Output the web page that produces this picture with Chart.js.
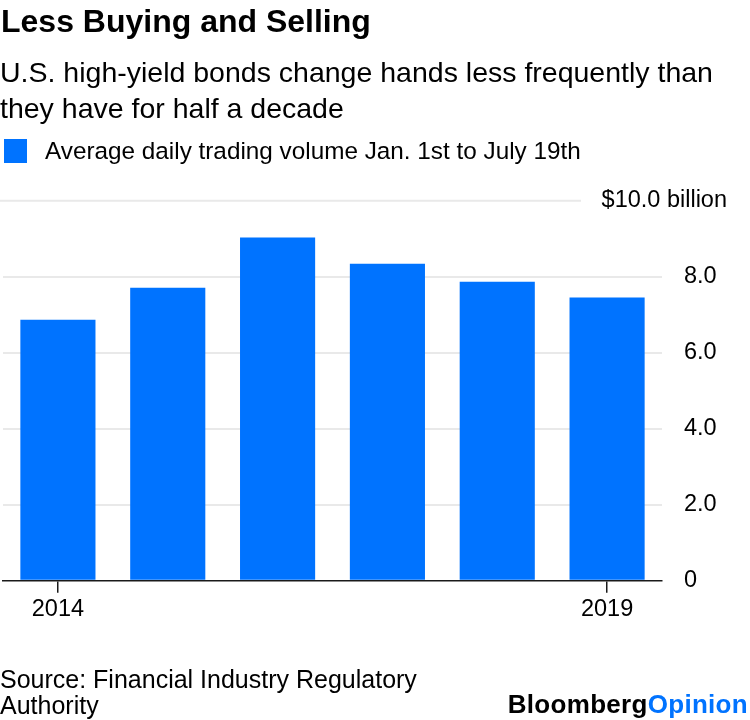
<!DOCTYPE html>
<html>
<head>
<meta charset="utf-8">
<script src="https://cdn.jsdelivr.net/npm/chart.js@4"></script>
<style>
  html, body { margin: 0; padding: 0; background: #fff; }
  body { width: 750px; height: 720px; position: relative; overflow: hidden; font-family: "Liberation Sans", Arial, sans-serif; color: #000; }
  .t { position: absolute; left: 0; white-space: nowrap; }
  #title { top: 5px; left: 1px; font-size: 32px; line-height: 32px; font-weight: bold; }
  #sub { top: 53.6px; font-size: 28.5px; line-height: 36px; }
  #leg { top: 139px; left: 4px; }
  #legbox { position: absolute; left: 0; top: 0; width: 23px; height: 24px; background: #0073ff; }
  #legtxt { position: absolute; left: 41px; top: -1px; font-size: 24.3px; line-height: 26px; white-space: nowrap; }
  #src { top: 666px; font-size: 25px; line-height: 26px; }
  #logo { top: 691px; left: auto; right: 2px; font-size: 26px; line-height: 26px; font-weight: bold; letter-spacing: 0.3px; }
  #logo span { color: #0073ff; }
  #wrap { position: absolute; left: 0; top: 0; width: 750px; height: 720px; }
</style>
</head>
<body>
<div id="wrap"><canvas id="c"></canvas></div>
<div class="t" id="title">Less Buying and Selling</div>
<div class="t" id="sub">U.S. high-yield bonds change hands less frequently than<br>they have for half a decade</div>
<div class="t" id="leg"><div id="legbox"></div><div id="legtxt">Average daily trading volume Jan. 1st to July 19th</div></div>
<div class="t" id="src">Source: Financial Industry Regulatory<br>Authority</div>
<div class="t" id="logo">Bloomberg<span>Opinion</span></div>
<script>
const categories = ["2014", "2015", "2016", "2017", "2018", "2019"];
const volumes = [6.87, 7.71, 9.03, 8.34, 7.87, 7.45];
const yTicks = [0, 2, 4, 6, 8, 10];
const yTopLabel = "$10.0 billion";
const shownXLabels = ["2014", "2019"];
const seriesName = "Average daily trading volume Jan. 1st to July 19th";

const FONT = '"Liberation Sans", Arial, sans-serif';
const TICK_SIZE = 23.5;
Chart.defaults.font.family = FONT;
Chart.defaults.color = '#000';

const topLabelPlugin = {
  id: 'topLabel',
  beforeDatasetsDraw(chart) {
    const y = chart.scales.y;
    const ctx = chart.ctx;
    const py = y.getPixelForValue(yTicks[yTicks.length - 1]);
    ctx.save();
    ctx.strokeStyle = '#e9e9e9';
    ctx.lineWidth = 2;
    ctx.beginPath();
    ctx.moveTo(0, py);
    ctx.lineTo(581, py);
    ctx.stroke();
    ctx.fillStyle = '#000';
    ctx.font = TICK_SIZE + 'px ' + FONT;
    ctx.textAlign = 'right';
    ctx.textBaseline = 'middle';
    ctx.fillText(yTopLabel, 727, py);
    ctx.restore();
  }
};

new Chart(document.getElementById('c'), {
  type: 'bar',
  data: {
    labels: categories,
    datasets: [{
      label: seriesName,
      data: volumes,
      backgroundColor: '#0073ff',
      borderWidth: 0,
      barPercentage: 0.684,
      categoryPercentage: 1.0
    }]
  },
  options: {
    responsive: true,
    maintainAspectRatio: false,
    animation: false,
    layout: { padding: { top: 200.7, bottom: 99.3, left: 3, right: 0 } },
    plugins: { legend: { display: false }, tooltip: { enabled: false } },
    scales: {
      x: {
        z: 1,
        offset: true,
        border: { display: true, color: '#1a1a1a', width: 1.5 },
        grid: {
          offset: false,
          drawOnChartArea: false,
          drawTicks: true,
          tickLength: 12,
          lineWidth: 1.5,
          color: (c) => shownXLabels.includes(categories[c.index]) ? '#1a1a1a' : 'rgba(0,0,0,0)'
        },
        ticks: {
          autoSkip: false,
          maxRotation: 0,
          padding: 3,
          font: { size: TICK_SIZE },
          callback: (v, i) => shownXLabels.includes(categories[i]) ? categories[i] : ''
        },
        afterFit: (s) => { s.height = 40; }
      },
      y: {
        position: 'right',
        min: 0,
        max: 10,
        afterBuildTicks: (s) => { s.ticks = yTicks.map(v => ({ value: v })); },
        border: { display: false },
        grid: {
          drawTicks: false,
          lineWidth: 2,
          color: (c) => (c.tick && (c.tick.value === 0 || c.tick.value === 10)) ? 'rgba(0,0,0,0)' : '#e9e9e9'
        },
        ticks: {
          crossAlign: 'near',
          padding: 22,
          font: { size: TICK_SIZE },
          callback: (v) => v === 10 ? '' : (v === 0 ? '0' : v.toFixed(1))
        },
        afterFit: (s) => { s.width = 88; }
      }
    }
  },
  plugins: [topLabelPlugin]
});
</script>
</body>
</html>
